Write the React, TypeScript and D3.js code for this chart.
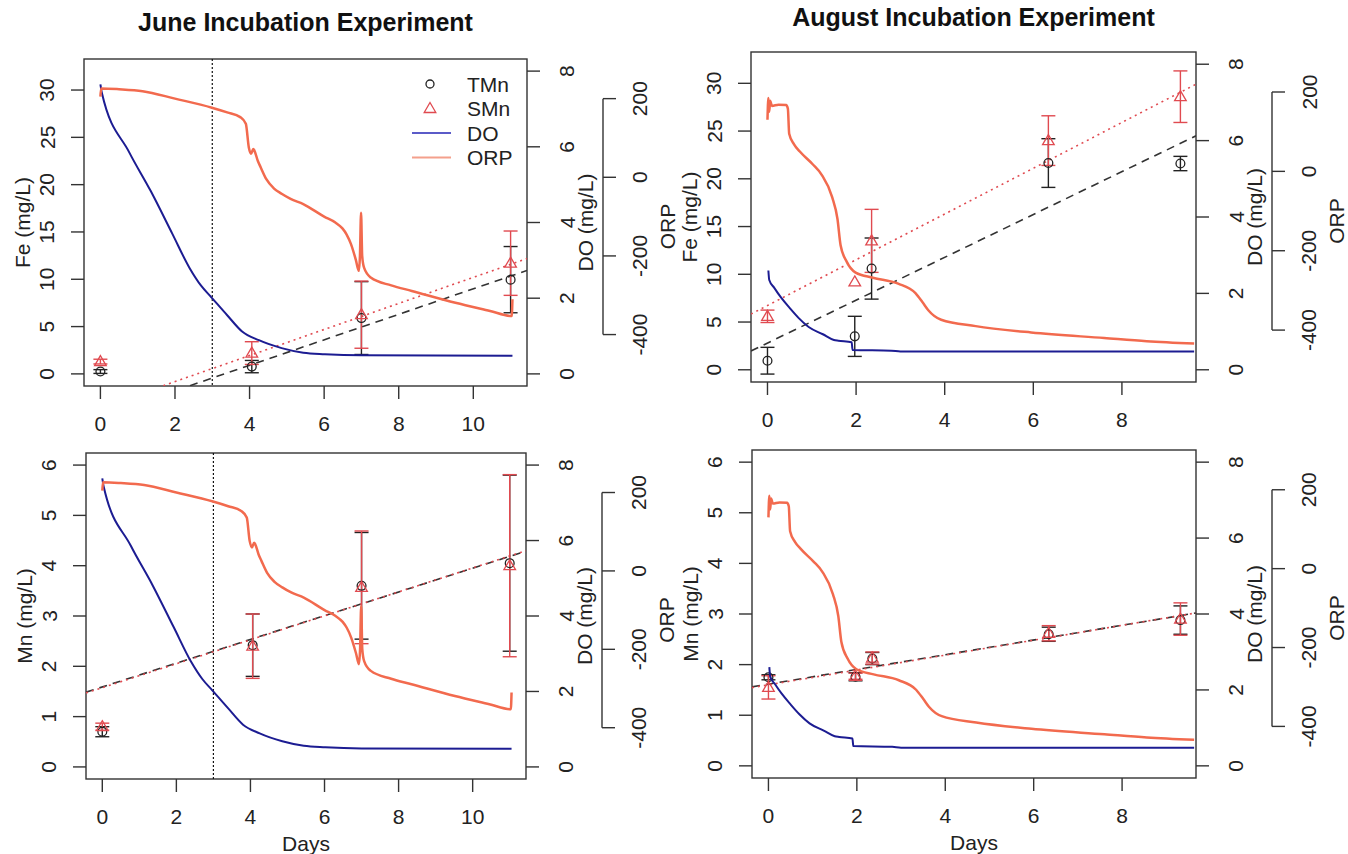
import React from 'react';
import * as d3 from 'd3';

// ---------- data ----------
const juneDays = [0, 4.06, 7, 11];
const juneTFe = [0.25, 0.77, 5.9, 9.96];
const juneTFeErr = [0.2, 0.65, 3.85, 3.5];
const juneSFe = [1.3, 2.2, 6.26, 11.7];
const juneSFeErr = [0.25, 1.2, 3.55, 3.4];
const juneTMn = [0.7, 2.42, 3.6, 4.05];
const juneTMnErr = [0.1, 0.62, 1.06, 1.75];
const juneSMn = [0.8, 2.4, 3.57, 4.0];
const juneSMnErr = [0.07, 0.64, 1.12, 1.81];

const augDays = [0, 1.97, 2.35, 6.34, 9.32];
const augTFe = [0.95, 3.5, 10.6, 21.65, 21.6];
const augTFeErr = [1.4, 2.1, 3.2, 2.55, 0.75];
const augSFe = [5.6, 9.2, 13.5, 24.0, 28.6];
const augSFeErr = [0.65, 0, 3.3, 2.6, 2.7];
const augTMn = [1.75, 1.76, 2.12, 2.6, 2.88];
const augTMnErr = [0.05, 0.08, 0.12, 0.14, 0.28];
const augSMn = [1.55, 1.77, 2.13, 2.62, 2.9];
const augSMnErr = [0.23, 0.06, 0.12, 0.15, 0.32];

// regression lines [intercept, slope]
const juneFeFitT = [-4.48, 1.347];
const juneFeFitS = [-3.57, 1.377];
const juneMnFitT = [1.59, 0.236];
const juneMnFitS = [1.575, 0.238];
const augFeFitT = [2.8, 2.244];
const augFeFitS = [6.73, 2.396];
const augMnFitT = [1.614, 0.1454];
const augMnFitS = [1.6, 0.147];

// sensor traces [day, value]
const juneDO: [number, number][] = [
  [0, 7.65], [0.04, 7.42], [0.77, 5.86], [1.35, 4.83], [1.93, 3.7], [2.39, 2.8],
  [2.7, 2.33], [2.97, 2.03], [3.4, 1.55], [3.8, 1.12], [4.25, 0.89], [4.86, 0.68],
  [5.44, 0.56], [6.02, 0.52], [7.0, 0.49], [11.05, 0.48],
];
const juneORP: [number, number][] = [
  [0, 205], [0.02, 226], [0.5, 224], [1.13, 219], [2.0, 200], [2.99, 177], [3.4, 165],
  [3.75, 153], [3.9, 136], [3.98, 76], [4.04, 60], [4.1, 72], [4.13, 68], [4.22, 42],
  [4.3, 25], [4.45, -5], [4.65, -28], [4.86, -42], [5.1, -55], [5.44, -68], [6.0, -100],
  [6.3, -115], [6.49, -130], [6.6, -145], [6.72, -170], [6.85, -210], [6.93, -238],
  [6.96, -200], [6.99, -90], [7.02, -200], [7.07, -230], [7.25, -255],
  [7.8, -275], [8.35, -289], [9.52, -319], [10.45, -340], [11.03, -353], [11.05, -310],
];
const augDO: [number, number][] = [
  [0.02, 2.6], [0.04, 2.35], [0.15, 2.15], [0.3, 1.9], [0.5, 1.62], [0.7, 1.36],
  [0.93, 1.12], [1.25, 0.93], [1.5, 0.78], [1.6, 0.76], [1.9, 0.72], [1.92, 0.52],
  [2.8, 0.5], [3.0, 0.48], [9.63, 0.48],
];
const augORP: [number, number][] = [
  [0.0, 130], [0.02, 185], [0.04, 150], [0.06, 178], [0.1, 165], [0.25, 168], [0.42, 167],
  [0.46, 158], [0.49, 95], [0.6, 68], [0.73, 50], [1.02, 18], [1.22, -8], [1.46, -65],
  [1.58, -120], [1.65, -186], [1.79, -228], [1.99, -255], [2.38, -268], [2.95, -283],
  [3.34, -307], [3.5, -330], [3.63, -350], [3.92, -374], [4.7, -390], [5.95, -406],
  [7.6, -420], [8.56, -428], [9.63, -434],
];

const juneXTicks = [0, 2, 4, 6, 8, 10];
const augXTicks = [0, 2, 4, 6, 8];
const feTicks = [0, 5, 10, 15, 20, 25, 30];
const mnTicks = [0, 1, 2, 3, 4, 5, 6];
const doTicks = [0, 2, 4, 6, 8];
const orpTicks = [-400, -200, 0, 200];
const legendLabels = ['TMn', 'SMn', 'DO', 'ORP'];

// ---------- style ----------
const FONT = "'Liberation Sans', Arial, Helvetica, sans-serif";
const INK = '#222';
const RED = '#E04A50';
const DOCOL = '#1C1C92';
const ORPCOL = '#F26A4E';

const ext = (a: number, b: number) => [a - 0.04 * (b - a), b + 0.04 * (b - a)];

type Box = { l: number; r: number; t: number; b: number };
type Cfg = {
  id: string;
  box: Box;
  xlim: [number, number];
  xTicks: number[];
  ylim: [number, number];
  yTicks: number[];
  yLabel: string;
  days: number[];
  tVal: number[]; tErr: number[]; sVal: number[]; sErr: number[];
  fitT: number[]; fitS: number[];
  doData: [number, number][]; orpData: [number, number][];
  vline?: number;
  title?: string; titleY?: number;
  xLabel?: boolean;
  legend?: boolean;
};

function Tri({ cx, cy, color }: { cx: number; cy: number; color: string }) {
  const p = `M${cx},${cy - 6}L${cx + 5.8},${cy + 4}L${cx - 5.8},${cy + 4}Z`;
  return <path d={p} fill="none" stroke={color} strokeWidth={1.3} />;
}

function ErrBar({ x, y0, y1, color }: { x: number; y0: number; y1: number; color: string }) {
  const w = 7;
  return (
    <g stroke={color} strokeWidth={1.4}>
      <line x1={x} x2={x} y1={y0} y2={y1} />
      <line x1={x - w} x2={x + w} y1={y0} y2={y0} />
      <line x1={x - w} x2={x + w} y1={y1} y2={y1} />
    </g>
  );
}

function Panel({ c }: { c: Cfg }) {
  const { box } = c;
  const xd = ext(c.xlim[0], c.xlim[1]);
  const x = d3.scaleLinear().domain(xd).range([box.l, box.r]);
  const y = d3.scaleLinear().domain(ext(c.ylim[0], c.ylim[1])).range([box.b, box.t]);
  const yDO = d3.scaleLinear().domain(ext(0, 8)).range([box.b, box.t]);
  const yORP = d3.scaleLinear().domain(ext(-500, 270)).range([box.b, box.t]);
  const lineDO = d3.line<[number, number]>().x(d => x(d[0])).y(d => yDO(d[1])).curve(d3.curveMonotoneX);
  const lineORP = d3.line<[number, number]>().x(d => x(d[0])).y(d => yORP(d[1])).curve(d3.curveMonotoneX);
  const midY = (box.t + box.b) / 2;
  const tick = 13;
  const fit = (f: number[]) => ({ x1: x(xd[0]), y1: y(f[0] + f[1] * xd[0]), x2: x(xd[1]), y2: y(f[0] + f[1] * xd[1]) });
  const fT = fit(c.fitT);
  const fS = fit(c.fitS);
  const orpX = box.r + 76;
  const rot = (tx: number, ty: number) => `rotate(-90 ${tx} ${ty})`;
  return (
    <g fontFamily={FONT} fill={INK}>
      <defs>
        <clipPath id={`clip-${c.id}`}>
          <rect x={box.l} y={box.t} width={box.r - box.l} height={box.b - box.t} />
        </clipPath>
      </defs>
      {c.title && (
        <text x={(box.l + box.r) / 2} y={c.titleY} textAnchor="middle" fontSize={25} fontWeight="bold" fill="#111">
          {c.title}
        </text>
      )}
      <rect x={box.l} y={box.t} width={box.r - box.l} height={box.b - box.t} fill="none" stroke="#333" strokeWidth={1.4} />
      {c.xTicks.map(t => (
        <g key={`xt${t}`}>
          <line x1={x(t)} x2={x(t)} y1={box.b} y2={box.b + tick} stroke="#333" strokeWidth={1.4} />
          <text x={x(t)} y={box.b + 37} textAnchor="middle" dominantBaseline="central" fontSize={21}>{t}</text>
        </g>
      ))}
      {c.xLabel && (
        <text x={(box.l + box.r) / 2} y={box.b + 64} textAnchor="middle" dominantBaseline="central" fontSize={21}>Days</text>
      )}
      {c.yTicks.map(t => (
        <g key={`yt${t}`}>
          <line x1={box.l - tick} x2={box.l} y1={y(t)} y2={y(t)} stroke="#333" strokeWidth={1.4} />
          <text x={box.l - 37} y={y(t)} transform={rot(box.l - 37, y(t))} textAnchor="middle" dominantBaseline="central" fontSize={21}>{t}</text>
        </g>
      ))}
      <text x={box.l - 62} y={midY} transform={rot(box.l - 62, midY)} textAnchor="middle" dominantBaseline="central" fontSize={21}>{c.yLabel}</text>
      {doTicks.map(t => (
        <g key={`dt${t}`}>
          <line x1={box.r} x2={box.r + tick} y1={yDO(t)} y2={yDO(t)} stroke="#333" strokeWidth={1.4} />
          <text x={box.r + 40} y={yDO(t)} transform={rot(box.r + 40, yDO(t))} textAnchor="middle" dominantBaseline="central" fontSize={21}>{t}</text>
        </g>
      ))}
      <text x={box.r + 58} y={midY} transform={rot(box.r + 58, midY)} textAnchor="middle" dominantBaseline="central" fontSize={21}>DO (mg/L)</text>
      <line x1={orpX} x2={orpX} y1={yORP(orpTicks[0])} y2={yORP(orpTicks[orpTicks.length - 1])} stroke="#333" strokeWidth={1.4} />
      {orpTicks.map(t => (
        <g key={`ot${t}`}>
          <line x1={orpX} x2={orpX + tick} y1={yORP(t)} y2={yORP(t)} stroke="#333" strokeWidth={1.4} />
          <text x={orpX + 37} y={yORP(t)} transform={rot(orpX + 37, yORP(t))} textAnchor="middle" dominantBaseline="central" fontSize={21}>{t}</text>
        </g>
      ))}
      <text x={orpX + 64} y={midY + 4} transform={rot(orpX + 64, midY + 4)} textAnchor="middle" dominantBaseline="central" fontSize={21}>ORP</text>

      <g clipPath={`url(#clip-${c.id})`}>
        {c.vline !== undefined && (
          <line x1={x(c.vline)} x2={x(c.vline)} y1={box.t} y2={box.b} stroke="#111" strokeWidth={1.2} strokeDasharray="2,2" />
        )}
        <line {...fT} stroke="#333" strokeWidth={1.6} strokeDasharray="8,6" />
        <line {...fS} stroke={RED} strokeWidth={1.6} strokeDasharray="2,4" />
        {c.days.map((d, i) => (
          <g key={`p${i}`}>
            {c.tErr[i] > 0 && <ErrBar x={x(d)} y0={y(c.tVal[i] + c.tErr[i])} y1={y(c.tVal[i] - c.tErr[i])} color="#222" />}
            {c.sErr[i] > 0 && <ErrBar x={x(d)} y0={y(c.sVal[i] + c.sErr[i])} y1={y(c.sVal[i] - c.sErr[i])} color={RED} />}
            <circle cx={x(d)} cy={y(c.tVal[i])} r={4.4} fill="none" stroke="#222" strokeWidth={1.3} />
            <Tri cx={x(d)} cy={y(c.sVal[i])} color={RED} />
          </g>
        ))}
        <path d={lineDO(c.doData) || ''} fill="none" stroke={DOCOL} strokeWidth={2} strokeLinejoin="round" />
        <path d={lineORP(c.orpData) || ''} fill="none" stroke={ORPCOL} strokeWidth={2.5} strokeLinejoin="round" />
      </g>

      {c.legend && (
        <g>
          {legendLabels.map((lab, i) => {
            const ly = 84 + i * 24.5;
            return (
              <g key={lab}>
                {i === 0 && <circle cx={430} cy={ly} r={4} fill="none" stroke="#222" strokeWidth={1.3} />}
                {i === 1 && <Tri cx={430} cy={ly} color={RED} />}
                {i === 2 && <line x1={412} x2={451} y1={ly} y2={ly} stroke="#5B5BC8" strokeWidth={2} />}
                {i === 3 && <line x1={412} x2={451} y1={ly} y2={ly} stroke="#F4A08C" strokeWidth={2} />}
                <text x={467} y={ly} dominantBaseline="central" fontSize={21}>{lab}</text>
              </g>
            );
          })}
        </g>
      )}
    </g>
  );
}

const panels: Cfg[] = [
  {
    id: 'tl', box: { l: 84, r: 527, t: 59, b: 386 }, xlim: [0, 11], xTicks: juneXTicks,
    ylim: [0, 32], yTicks: feTicks, yLabel: 'Fe (mg/L)', days: juneDays,
    tVal: juneTFe, tErr: juneTFeErr, sVal: juneSFe, sErr: juneSFeErr,
    fitT: juneFeFitT, fitS: juneFeFitS, doData: juneDO, orpData: juneORP, vline: 3,
    title: 'June Incubation Experiment', titleY: 31, legend: true,
  },
  {
    id: 'tr', box: { l: 751, r: 1196, t: 52, b: 382 }, xlim: [0, 9.3], xTicks: augXTicks,
    ylim: [0, 32], yTicks: feTicks, yLabel: 'Fe (mg/L)', days: augDays,
    tVal: augTFe, tErr: augTFeErr, sVal: augSFe, sErr: augSFeErr,
    fitT: augFeFitT, fitS: augFeFitS, doData: augDO, orpData: augORP,
    title: 'August Incubation Experiment', titleY: 26,
  },
  {
    id: 'bl', box: { l: 86, r: 526, t: 453, b: 779 }, xlim: [0, 11], xTicks: juneXTicks,
    ylim: [0, 6], yTicks: mnTicks, yLabel: 'Mn (mg/L)', days: juneDays,
    tVal: juneTMn, tErr: juneTMnErr, sVal: juneSMn, sErr: juneSMnErr,
    fitT: juneMnFitT, fitS: juneMnFitS, doData: juneDO, orpData: juneORP, vline: 3, xLabel: true,
  },
  {
    id: 'br', box: { l: 752, r: 1196, t: 450, b: 778 }, xlim: [0, 9.3], xTicks: augXTicks,
    ylim: [0, 6], yTicks: mnTicks, yLabel: 'Mn (mg/L)', days: augDays,
    tVal: augTMn, tErr: augTMnErr, sVal: augSMn, sErr: augSMnErr,
    fitT: augMnFitT, fitS: augMnFitS, doData: augDO, orpData: augORP, xLabel: true,
  },
];

export default function App() {
  return (
    <svg width={1348} height={854} viewBox="0 0 1348 854" style={{ position: 'absolute', left: 0, top: 0, background: '#fff' }}>
      <rect x={0} y={0} width={1348} height={854} fill="#fff" />
      {panels.map(p => <Panel key={p.id} c={p} />)}
    </svg>
  );
}
